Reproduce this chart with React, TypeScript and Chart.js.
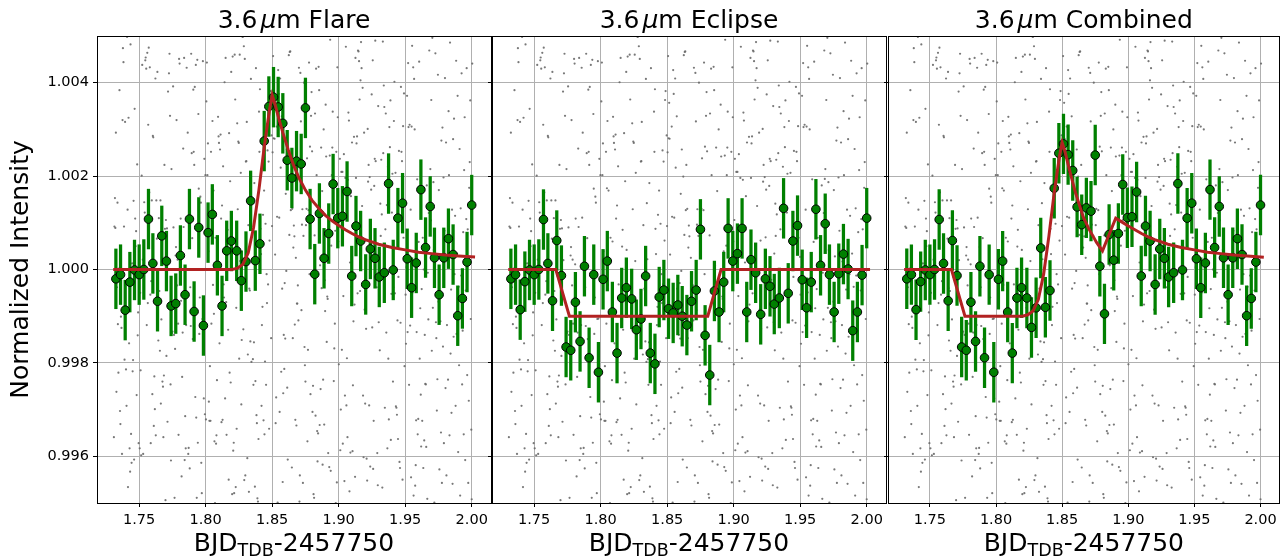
import React, { useEffect, useRef } from "react";
import { Chart, registerables } from "chart.js";

Chart.register(...registerables);

// ---------------- layout constants ----------------
const W = 1285;
const H = 557;
const PLOT_TOP = 36;
const PLOT_BOTTOM = 503;
const PANEL_LEFT = [97, 492, 888];
const PANEL_WIDTH = 394;
const FONT = "'DejaVu Sans', 'Liberation Sans', sans-serif";

// ---------------- axis data ----------------
const X_MIN = 1.7183;
const X_MAX = 2.0145;
const Y_MIN = 0.995;
const Y_MAX = 1.005;
const xTicks = [1.75, 1.8, 1.85, 1.9, 1.95, 2.0];
const yTicks = [0.996, 0.998, 1.0, 1.002, 1.004];

const titleWave = "3.6";
const titleUnitItalic = "\u03bc";
const titleUnitRest = "m";
const panelNames = ["Flare", "Eclipse", "Combined"];
const yAxisTitle = "Normalized Intensity";
const xAxisMain = "BJD";
const xAxisSub = "TDB";
const xAxisTail = "-2457750";

// ---------------- raw (unbinned) photometry ----------------
const rawTime = [
  1.7310, 1.7314, 1.7318, 1.7321, 1.7325, 1.7329, 1.7333, 1.7337, 1.7340, 1.7344,
  1.7348, 1.7352, 1.7356, 1.7359, 1.7363, 1.7367, 1.7371, 1.7375, 1.7378, 1.7382,
  1.7386, 1.7390, 1.7394, 1.7397, 1.7401, 1.7405, 1.7409, 1.7413, 1.7416, 1.7420,
  1.7424, 1.7428, 1.7432, 1.7435, 1.7439, 1.7443, 1.7447, 1.7451, 1.7454, 1.7458,
  1.7462, 1.7466, 1.7470, 1.7473, 1.7477, 1.7481, 1.7485, 1.7489, 1.7492, 1.7496,
  1.7500, 1.7504, 1.7508, 1.7511, 1.7515, 1.7519, 1.7523, 1.7527, 1.7530, 1.7534,
  1.7538, 1.7542, 1.7546, 1.7549, 1.7553, 1.7557, 1.7561, 1.7565, 1.7568, 1.7572,
  1.7576, 1.7580, 1.7584, 1.7587, 1.7591, 1.7595, 1.7599, 1.7603, 1.7606, 1.7610,
  1.7614, 1.7618, 1.7622, 1.7625, 1.7629, 1.7633, 1.7637, 1.7641, 1.7644, 1.7648,
  1.7652, 1.7656, 1.7660, 1.7663, 1.7667, 1.7671, 1.7675, 1.7679, 1.7682, 1.7686,
  1.7690, 1.7694, 1.7698, 1.7701, 1.7705, 1.7709, 1.7713, 1.7717, 1.7720, 1.7724,
  1.7728, 1.7732, 1.7736, 1.7739, 1.7743, 1.7747, 1.7751, 1.7755, 1.7758, 1.7762,
  1.7766, 1.7770, 1.7774, 1.7777, 1.7781, 1.7785, 1.7789, 1.7793, 1.7796, 1.7800,
  1.7804, 1.7808, 1.7812, 1.7815, 1.7819, 1.7823, 1.7827, 1.7831, 1.7834, 1.7838,
  1.7842, 1.7846, 1.7850, 1.7853, 1.7857, 1.7861, 1.7865, 1.7869, 1.7872, 1.7876,
  1.7880, 1.7884, 1.7888, 1.7891, 1.7895, 1.7899, 1.7903, 1.7907, 1.7910, 1.7914,
  1.7918, 1.7922, 1.7926, 1.7929, 1.7933, 1.7937, 1.7941, 1.7945, 1.7948, 1.7952,
  1.7956, 1.7960, 1.7964, 1.7967, 1.7971, 1.7975, 1.7979, 1.7983, 1.7986, 1.7990,
  1.7994, 1.7998, 1.8002, 1.8005, 1.8009, 1.8013, 1.8017, 1.8021, 1.8024, 1.8028,
  1.8032, 1.8036, 1.8040, 1.8043, 1.8047, 1.8051, 1.8055, 1.8059, 1.8062, 1.8066,
  1.8070, 1.8074, 1.8078, 1.8081, 1.8085, 1.8089, 1.8093, 1.8097, 1.8100, 1.8104,
  1.8108, 1.8112, 1.8116, 1.8119, 1.8123, 1.8127, 1.8131, 1.8135, 1.8138, 1.8142,
  1.8146, 1.8150, 1.8154, 1.8157, 1.8161, 1.8165, 1.8169, 1.8173, 1.8176, 1.8180,
  1.8184, 1.8188, 1.8192, 1.8195, 1.8199, 1.8203, 1.8207, 1.8211, 1.8214, 1.8218,
  1.8222, 1.8226, 1.8230, 1.8233, 1.8237, 1.8241, 1.8245, 1.8249, 1.8252, 1.8256,
  1.8260, 1.8264, 1.8268, 1.8271, 1.8275, 1.8279, 1.8283, 1.8287, 1.8290, 1.8294,
  1.8298, 1.8302, 1.8306, 1.8309, 1.8313, 1.8317, 1.8321, 1.8325, 1.8328, 1.8332,
  1.8336, 1.8340, 1.8344, 1.8347, 1.8351, 1.8355, 1.8359, 1.8363, 1.8366, 1.8370,
  1.8374, 1.8378, 1.8382, 1.8385, 1.8389, 1.8393, 1.8397, 1.8401, 1.8404, 1.8408,
  1.8412, 1.8416, 1.8420, 1.8423, 1.8427, 1.8431, 1.8435, 1.8439, 1.8442, 1.8446,
  1.8450, 1.8454, 1.8458, 1.8461, 1.8465, 1.8469, 1.8473, 1.8477, 1.8480, 1.8484,
  1.8488, 1.8492, 1.8496, 1.8499, 1.8503, 1.8507, 1.8511, 1.8515, 1.8518, 1.8522,
  1.8526, 1.8530, 1.8534, 1.8537, 1.8541, 1.8545, 1.8549, 1.8553, 1.8556, 1.8560,
  1.8564, 1.8568, 1.8572, 1.8575, 1.8579, 1.8583, 1.8587, 1.8591, 1.8594, 1.8598,
  1.8602, 1.8606, 1.8610, 1.8613, 1.8617, 1.8621, 1.8625, 1.8629, 1.8632, 1.8636,
  1.8640, 1.8644, 1.8648, 1.8651, 1.8655, 1.8659, 1.8663, 1.8667, 1.8670, 1.8674,
  1.8678, 1.8682, 1.8686, 1.8689, 1.8693, 1.8697, 1.8701, 1.8705, 1.8708, 1.8712,
  1.8716, 1.8720, 1.8724, 1.8727, 1.8731, 1.8735, 1.8739, 1.8743, 1.8746, 1.8750,
  1.8754, 1.8758, 1.8762, 1.8765, 1.8769, 1.8773, 1.8777, 1.8781, 1.8784, 1.8788,
  1.8792, 1.8796, 1.8800, 1.8803, 1.8807, 1.8811, 1.8815, 1.8819, 1.8822, 1.8826,
  1.8830, 1.8834, 1.8838, 1.8841, 1.8845, 1.8849, 1.8853, 1.8857, 1.8860, 1.8864,
  1.8868, 1.8872, 1.8876, 1.8879, 1.8883, 1.8887, 1.8891, 1.8895, 1.8898, 1.8902,
  1.8906, 1.8910, 1.8914, 1.8917, 1.8921, 1.8925, 1.8929, 1.8933, 1.8936, 1.8940,
  1.8944, 1.8948, 1.8952, 1.8955, 1.8959, 1.8963, 1.8967, 1.8971, 1.8974, 1.8978,
  1.8982, 1.8986, 1.8990, 1.8993, 1.8997, 1.9001, 1.9005, 1.9009, 1.9012, 1.9016,
  1.9020, 1.9024, 1.9028, 1.9031, 1.9035, 1.9039, 1.9043, 1.9047, 1.9050, 1.9054,
  1.9058, 1.9062, 1.9066, 1.9069, 1.9073, 1.9077, 1.9081, 1.9085, 1.9088, 1.9092,
  1.9096, 1.9100, 1.9104, 1.9107, 1.9111, 1.9115, 1.9119, 1.9123, 1.9126, 1.9130,
  1.9134, 1.9138, 1.9142, 1.9145, 1.9149, 1.9153, 1.9157, 1.9161, 1.9164, 1.9168,
  1.9172, 1.9176, 1.9180, 1.9183, 1.9187, 1.9191, 1.9195, 1.9199, 1.9202, 1.9206,
  1.9210, 1.9214, 1.9218, 1.9221, 1.9225, 1.9229, 1.9233, 1.9237, 1.9240, 1.9244,
  1.9248, 1.9252, 1.9256, 1.9259, 1.9263, 1.9267, 1.9271, 1.9275, 1.9278, 1.9282,
  1.9286, 1.9290, 1.9294, 1.9297, 1.9301, 1.9305, 1.9309, 1.9313, 1.9316, 1.9320,
  1.9324, 1.9328, 1.9332, 1.9335, 1.9339, 1.9343, 1.9347, 1.9351, 1.9354, 1.9358,
  1.9362, 1.9366, 1.9370, 1.9373, 1.9377, 1.9381, 1.9385, 1.9389, 1.9392, 1.9396,
  1.9400, 1.9404, 1.9408, 1.9411, 1.9415, 1.9419, 1.9423, 1.9427, 1.9430, 1.9434,
  1.9438, 1.9442, 1.9446, 1.9449, 1.9453, 1.9457, 1.9461, 1.9465, 1.9468, 1.9472,
  1.9476, 1.9480, 1.9484, 1.9487, 1.9491, 1.9495, 1.9499, 1.9503, 1.9506, 1.9510,
  1.9514, 1.9518, 1.9522, 1.9525, 1.9529, 1.9533, 1.9537, 1.9541, 1.9544, 1.9548,
  1.9552, 1.9556, 1.9560, 1.9563, 1.9567, 1.9571, 1.9575, 1.9579, 1.9582, 1.9586,
  1.9590, 1.9594, 1.9598, 1.9601, 1.9605, 1.9609, 1.9613, 1.9617, 1.9620, 1.9624,
  1.9628, 1.9632, 1.9636, 1.9639, 1.9643, 1.9647, 1.9651, 1.9655, 1.9658, 1.9662,
  1.9666, 1.9670, 1.9674, 1.9677, 1.9681, 1.9685, 1.9689, 1.9693, 1.9696, 1.9700,
  1.9704, 1.9708, 1.9712, 1.9715, 1.9719, 1.9723, 1.9727, 1.9731, 1.9734, 1.9738,
  1.9742, 1.9746, 1.9750, 1.9753, 1.9757, 1.9761, 1.9765, 1.9769, 1.9772, 1.9776,
  1.9780, 1.9784, 1.9788, 1.9791, 1.9795, 1.9799, 1.9803, 1.9807, 1.9810, 1.9814,
  1.9818, 1.9822, 1.9826, 1.9829, 1.9833, 1.9837, 1.9841, 1.9845, 1.9848, 1.9852,
  1.9856, 1.9860, 1.9864, 1.9867, 1.9871, 1.9875, 1.9879, 1.9883, 1.9886, 1.9890,
  1.9894, 1.9898, 1.9902, 1.9905, 1.9909, 1.9913, 1.9917, 1.9921, 1.9924, 1.9928,
  1.9932, 1.9936, 1.9940, 1.9943, 1.9947, 1.9951, 1.9955, 1.9959, 1.9962, 1.9966,
  1.9970, 1.9974, 1.9978, 1.9981, 1.9985, 1.9989, 1.9993, 1.9997, 2.0000, 2.0004,
];

const rawFlux = [
  0.99641, 1.00092, 1.00153, 1.00089, 1.00293, 0.99738, 0.99962, 1.00143, 0.99883, 0.99779,
  1.00002, 1.00384, 0.99697, 0.99669, 0.99899, 0.99875, 0.99605, 1.00320, 1.00474, 1.00444,
  1.00092, 0.99807, 1.00316, 0.99906, 0.99786, 0.99708, 1.00498, 1.00128, 0.99534, 1.00325,
  0.99842, 0.99617, 0.99567, 1.00482, 0.99648, 0.99586, 1.00013, 0.99782, 0.99806, 1.00147,
  0.99593, 1.00344, 1.00109, 1.00050, 1.00082, 0.99731, 1.00225, 0.99859, 0.99908, 0.99628,
  0.99981, 0.99617, 0.99950, 0.99784, 0.99602, 1.00201, 1.00438, 1.00021, 0.99605, 1.00059,
  1.00144, 1.00122, 1.00448, 1.00454, 1.00430, 0.99881, 1.00464, 0.99928, 1.00310, 1.00475,
  1.00165, 1.00433, 0.99946, 0.99628, 0.99975, 1.00148, 0.99733, 1.00286, 1.00283, 0.99665,
  0.99771, 0.99701, 1.00409, 0.99645, 1.00148, 1.00066, 1.00423, 0.99960, 0.99848, 1.00110,
  0.99954, 0.99826, 1.00148, 0.99713, 0.99893, 1.00107, 0.99760, 0.99749, 0.99641, 0.99773,
  1.00224, 1.00087, 0.99506, 1.00106, 0.99815, 1.00088, 0.99674, 1.00381, 1.00020, 1.00420,
  1.00462, 1.00329, 0.99754, 0.99591, 1.00215, 0.99864, 0.99867, 1.00392, 1.00090, 0.99860,
  0.99511, 0.99830, 1.00030, 1.00048, 1.00320, 0.99966, 1.00021, 0.99884, 0.99646, 1.00451,
  1.00441, 1.00011, 1.00109, 0.99933, 0.99557, 0.99770, 0.99865, 1.00259, 1.00091, 1.00453,
  0.99592, 0.99686, 0.99617, 0.99881, 1.00432, 1.00111, 1.00293, 0.99605, 0.99618, 1.00048,
  0.99574, 0.99962, 0.99879, 1.00462, 1.00249, 1.00067, 0.99851, 1.00385, 1.00252, 1.00224,
  1.00391, 0.99727, 1.00438, 0.99683, 0.99511, 1.00449, 0.99629, 1.00333, 1.00173, 0.99862,
  0.99940, 1.00156, 1.00143, 0.99586, 0.99521, 0.99894, 1.00446, 0.99895, 0.99724, 1.00237,
  0.99690, 1.00202, 0.99679, 1.00360, 1.00443, 1.00202, 1.00270, 1.00039, 0.99717, 0.99676,
  0.99793, 0.99676, 1.00252, 0.99884, 1.00174, 1.00318, 0.99967, 1.00169, 0.99905, 0.99632,
  0.99500, 1.00068, 0.99627, 0.99645, 0.99763, 1.00060, 1.00327, 1.00285, 1.00271, 0.99842,
  1.00257, 1.00289, 1.00109, 0.99673, 1.00137, 0.99678, 1.00221, 0.99968, 0.99940, 1.00401,
  0.99724, 1.00453, 0.99930, 0.99646, 1.00049, 1.00085, 0.99871, 0.99550, 1.00292, 0.99779,
  1.00189, 0.99758, 1.00423, 1.00042, 0.99519, 1.00456, 0.99612, 0.99629, 0.99521, 1.00460,
  1.00364, 0.99534, 0.99918, 0.99659, 1.00313, 1.00129, 1.00274, 1.00271, 0.99809, 1.00460,
  1.00018, 1.00207, 0.99711, 0.99849, 1.00499, 1.00498, 0.99872, 1.00478, 0.99549, 1.00451,
  0.99559, 1.00231, 1.00232, 1.00316, 0.99596, 0.99818, 1.00095, 0.99524, 0.99959, 0.99955,
  0.99846, 1.00408, 0.99802, 1.00142, 1.00022, 0.99808, 0.99753, 0.99844, 1.00185, 0.99535,
  0.99761, 1.00431, 0.99688, 0.99671, 0.99510, 0.99503, 0.99637, 1.00338, 1.00252, 1.00386,
  1.00087, 1.00033, 0.99708, 0.99881, 0.99920, 1.00117, 0.99677, 1.00169, 0.99647, 0.99803,
  1.00098, 0.99753, 0.99990, 0.99928, 1.00255, 0.99968, 1.00231, 0.99659, 1.00062, 1.00363,
  1.00382, 0.99853, 1.00287, 1.00093, 1.00251, 1.00457, 1.00281, 1.00357, 1.00280, 1.00032,
  0.99671, 0.99726, 1.00306, 1.00113, 0.99501, 1.00427, 1.00376, 1.00111, 0.99695, 1.00409,
  1.00218, 0.99781, 1.00328, 0.99959, 0.99545, 0.99735, 0.99860, 0.99787, 0.99971, 0.99852,
  1.00162, 0.99997, 1.00257, 0.99747, 0.99593, 1.00199, 1.00459, 1.00074, 1.00466, 1.00467,
  1.00127, 1.00224, 0.99576, 1.00130, 0.99853, 1.00047, 1.00094, 1.00071, 0.99882, 0.99678,
  1.00025, 0.99666, 0.99927, 0.99927, 0.99966, 0.99891, 1.00432, 0.99503, 0.99559, 1.00421,
  1.00317, 0.99913, 1.00096, 1.00129, 0.99543, 1.00072, 1.00400, 0.99834, 0.99795, 0.99760,
  1.00095, 1.00130, 1.00238, 0.99632, 0.99828, 1.00127, 1.00443, 0.99990, 1.00263, 0.99733,
  1.00329, 1.00380, 1.00253, 0.99695, 0.99751, 0.99519, 0.99511, 1.00073, 1.00334, 0.99687,
  1.00430, 1.00202, 0.99654, 0.99589, 0.99649, 1.00434, 1.00384, 0.99667, 1.00009, 0.99744,
  1.00261, 0.99960, 1.00168, 0.99582, 0.99764, 1.00300, 0.99668, 0.99977, 0.99911, 1.00353,
  1.00242, 0.99845, 0.99942, 0.99937, 0.99607, 1.00039, 0.99577, 1.00244, 1.00492, 0.99569,
  1.00051, 1.00202, 1.00261, 1.00338, 1.00106, 0.99761, 0.99831, 0.99884, 1.00083, 0.99500,
  1.00252, 0.99544, 1.00433, 1.00326, 1.00060, 0.99797, 1.00106, 1.00237, 0.99613, 0.99700,
  1.00209, 0.99828, 1.00209, 0.99627, 0.99943, 1.00247, 0.99547, 0.99730, 1.00196, 1.00477,
  0.99709, 0.99810, 0.99641, 1.00192, 1.00336, 1.00319, 0.99525, 1.00015, 0.99608, 1.00157,
  0.99963, 1.00272, 0.99611, 0.99752, 0.99889, 1.00284, 0.99925, 0.99556, 1.00453, 1.00196,
  1.00270, 1.00285, 0.99949, 1.00469, 1.00467, 1.00446, 1.00364, 0.99954, 1.00405, 1.00487,
  1.00431, 1.00136, 1.00389, 0.99730, 0.99598, 1.00293, 0.99914, 0.99713, 1.00062, 0.99873,
  0.99595, 0.99548, 1.00301, 1.00188, 1.00224, 0.99709, 1.00198, 0.99578, 1.00069, 1.00171,
  1.00375, 0.99876, 1.00448, 0.99573, 0.99676, 1.00179, 1.00237, 1.00490, 1.00232, 0.99978,
  0.99962, 0.99607, 0.99538, 1.00350, 0.99887, 1.00034, 0.99827, 1.00141, 1.00072, 1.00235,
  1.00118, 0.99533, 1.00488, 1.00249, 1.00394, 1.00348, 0.99704, 1.00086, 1.00334, 0.99865,
  1.00138, 0.99617, 1.00220, 0.99809, 0.99679, 1.00305, 1.00262, 1.00362, 0.99635, 0.99948,
  1.00122, 1.00205, 0.99760, 0.99962, 1.00318, 1.00402, 0.99949, 1.00207, 0.99707, 0.99704,
  0.99689, 0.99891, 0.99637, 0.99984, 1.00254, 0.99588, 0.99575, 0.99886, 1.00391, 1.00252,
  1.00232, 0.99550, 1.00307, 1.00068, 1.00377, 0.99793, 1.00027, 0.99946, 0.99841, 1.00005,
  1.00372, 0.99866, 1.00442, 1.00305, 0.99753, 1.00310, 0.99880, 1.00128, 0.99555, 1.00306,
  1.00479, 0.99951, 1.00433, 0.99516, 1.00408, 1.00300, 0.99537, 0.99581, 0.99677, 0.99866,
  1.00193, 0.99647, 0.99680, 1.00059, 1.00445, 0.99809, 0.99917, 0.99732, 0.99621, 0.99958,
  0.99676, 1.00068, 0.99575, 1.00000, 0.99634, 0.99860, 0.99755, 0.99754, 0.99620, 1.00180,
  0.99509, 0.99993, 0.99893, 1.00121, 1.00469, 1.00194, 1.00215, 1.00105, 1.00363, 0.99826,
  1.00496, 0.99918, 1.00187, 1.00042, 0.99501, 0.99996, 1.00463, 0.99887, 0.99853, 0.99698,
  0.99765, 1.00417, 0.99931, 1.00170, 0.99572, 1.00028, 0.99889, 0.99651, 1.00276, 0.99543,
  1.00304, 0.99835, 1.00197, 0.99628, 1.00083, 1.00410, 0.99746, 1.00272, 0.99559, 0.99881,
  1.00017, 0.99764, 1.00339, 1.00202, 0.99645, 1.00486, 0.99820, 0.99957, 0.99693, 1.00128,
  0.99541, 1.00279, 0.99856, 1.00323, 0.99990, 1.00115, 0.99708, 1.00447, 0.99862, 1.00034,
  1.00372, 0.99609, 0.99963, 0.99795, 1.00258, 0.99516, 1.00131, 0.99987, 1.00420, 0.99754,
  0.99869, 1.00080, 0.99647, 1.00213, 1.00326, 0.99592, 0.99955, 1.00108, 1.00431, 0.99774,
  1.00086, 0.99543, 0.99719, 1.00175, 1.00230, 1.00362, 0.99894, 0.99657, 0.99508, 1.00441,
];

// ---------------- binned photometry ----------------
const binTime = [
  1.7325, 1.7360, 1.7395, 1.7430, 1.7465, 1.7500, 1.7535, 1.7570, 1.7603, 1.7638,
  1.7670, 1.7705, 1.7740, 1.7775, 1.7810, 1.7845, 1.7878, 1.7913, 1.7948, 1.7983,
  1.8018, 1.8050, 1.8088, 1.8123, 1.8158, 1.8193, 1.8233, 1.8268, 1.8303, 1.8338,
  1.8373, 1.8408, 1.8440, 1.8475, 1.8510, 1.8545, 1.8580, 1.8613, 1.8648, 1.8683,
  1.8718, 1.8750, 1.8785, 1.8820, 1.8855, 1.8890, 1.8925, 1.8958, 1.8993, 1.9028,
  1.9063, 1.9098, 1.9130, 1.9165, 1.9203, 1.9238, 1.9273, 1.9305, 1.9343, 1.9375,
  1.9410, 1.9445, 1.9480, 1.9515, 1.9548, 1.9583, 1.9618, 1.9653, 1.9688, 1.9720,
  1.9755, 1.9790, 1.9825, 1.9860, 1.9895, 1.9930, 1.9965, 2.0000,
];
const binError = 0.00064;

// eclipse removed
const binFluxFlare = [
  0.99980, 0.99989, 0.99913, 0.99973, 0.99999, 0.99989, 1.00000, 1.00108, 1.00013, 0.99932,
  1.00072, 1.00018, 0.99922, 0.99927, 1.00030, 0.99946, 1.00108, 0.99910, 1.00090, 0.99880,
  1.00079, 1.00118, 1.00009, 0.99922, 1.00040, 1.00061, 1.00040, 0.99976, 1.00017, 1.00147,
  1.00019, 1.00055, 1.00275, 1.00349, 1.00369, 1.00348, 1.00313, 1.00234, 1.00196, 1.00232,
  1.00226, 1.00346, 1.00108, 0.99990, 1.00120, 1.00024, 1.00077, 1.00183, 1.00110, 1.00114,
  1.00167, 0.99986, 1.00093, 1.00061, 0.99968, 1.00044, 1.00024, 0.99984, 0.99993, 1.00184,
  0.99999, 1.00110, 1.00142, 1.00023, 0.99961, 1.00014, 1.00171, 1.00047, 1.00135, 1.00025,
  0.99946, 1.00025, 1.00066, 1.00032, 0.99901, 0.99938, 1.00016, 1.00138,
];
// flare removed
const binFluxEclipse = [
  0.99980, 0.99989, 0.99914, 0.99974, 0.99999, 0.99989, 1.00000, 1.00107, 1.00013, 0.99933,
  1.00062, 0.99987, 0.99834, 0.99827, 0.99930, 0.99846, 1.00007, 0.99811, 0.99989, 0.99780,
  0.99979, 1.00018, 0.99909, 0.99821, 0.99939, 0.99961, 0.99937, 0.99871, 0.99894, 0.99986,
  0.99821, 0.99798, 0.99941, 0.99956, 0.99916, 0.99907, 0.99924, 0.99900, 0.99881, 0.99932,
  0.99956, 1.00086, 0.99859, 0.99774, 0.99954, 0.99909, 0.99973, 1.00088, 1.00018, 1.00034,
  1.00088, 0.99909, 1.00021, 0.99993, 0.99904, 0.99980, 0.99964, 0.99926, 0.99939, 1.00131,
  0.99949, 1.00061, 1.00094, 0.99978, 0.99918, 0.99973, 1.00129, 1.00009, 1.00098, 0.99989,
  0.99909, 0.99991, 1.00033, 1.00001, 0.99869, 0.99909, 0.99988, 1.00110,
];
// raw binned
const binFluxCombined = [
  0.99980, 0.99989, 0.99914, 0.99974, 0.99999, 0.99989, 1.00000, 1.00107, 1.00013, 0.99933,
  1.00062, 0.99987, 0.99834, 0.99827, 0.99930, 0.99846, 1.00007, 0.99811, 0.99989, 0.99780,
  0.99979, 1.00018, 0.99909, 0.99821, 0.99939, 0.99961, 0.99939, 0.99876, 0.99918, 1.00046,
  0.99919, 0.99955, 1.00174, 1.00249, 1.00269, 1.00246, 1.00212, 1.00134, 1.00096, 1.00132,
  1.00125, 1.00245, 1.00007, 0.99905, 1.00075, 1.00020, 1.00077, 1.00182, 1.00111, 1.00113,
  1.00166, 0.99986, 1.00093, 1.00061, 0.99968, 1.00044, 1.00024, 0.99984, 0.99993, 1.00184,
  0.99999, 1.00110, 1.00142, 1.00023, 0.99961, 1.00014, 1.00171, 1.00047, 1.00135, 1.00025,
  0.99946, 1.00025, 1.00066, 1.00032, 0.99901, 0.99938, 1.00016, 1.00138,
];

// ---------------- model curves ----------------
const flareModelTime = [
  1.7305, 1.8200, 1.8240, 1.8280, 1.8320, 1.8360, 1.8400, 1.8440, 1.8480, 1.8500,
  1.8520, 1.8550, 1.8580, 1.8620, 1.8660, 1.8700, 1.8750, 1.8800, 1.8850, 1.8900,
  1.8950, 1.9000, 1.9050, 1.9100, 1.9150, 1.9200, 1.9300, 1.9400, 1.9500, 1.9600,
  1.9700, 1.9800, 1.9900, 2.0025,
];
const flareModelFlux = [
  1.00000, 1.00000, 1.00003, 1.00011, 1.00036, 1.00090, 1.00170, 1.00262, 1.00342, 1.00373,
  1.00355, 1.00323, 1.00293, 1.00257, 1.00224, 1.00197, 1.00170, 1.00148, 1.00131, 1.00116,
  1.00104, 1.00094, 1.00085, 1.00077, 1.00070, 1.00064, 1.00054, 1.00047, 1.00042, 1.00037,
  1.00034, 1.00031, 1.00029, 1.00027,
];
const eclipseModelTime = [1.7305, 1.7663, 1.7765, 1.8805, 1.8905, 2.0025];
const eclipseModelFlux = [1.0, 1.0, 0.999, 0.999, 1.0, 1.0];
const combinedModelTime = [
  1.7305, 1.7663, 1.7765, 1.8200, 1.8240, 1.8280, 1.8320, 1.8360, 1.8400, 1.8440,
  1.8480, 1.8500, 1.8520, 1.8560, 1.8600, 1.8660, 1.8700, 1.8760, 1.8805, 1.8905,
  1.8950, 1.9000, 1.9050, 1.9100, 1.9150, 1.9200, 1.9300, 1.9400, 1.9500, 1.9600,
  1.9700, 1.9800, 1.9900, 2.0025,
];
const combinedModelFlux = [
  1.00000, 1.00000, 0.99900, 0.99900, 0.99903, 0.99911, 0.99936, 0.99990, 1.00072, 1.00165,
  1.00243, 1.00272, 1.00254, 1.00208, 1.00165, 1.00112, 1.00088, 1.00058, 1.00040, 1.00110,
  1.00102, 1.00093, 1.00085, 1.00077, 1.00070, 1.00064, 1.00054, 1.00047, 1.00042, 1.00037,
  1.00034, 1.00031, 1.00029, 1.00026,
];

const panelBinFlux = [binFluxFlare, binFluxEclipse, binFluxCombined];
const panelModelTime = [flareModelTime, eclipseModelTime, combinedModelTime];
const panelModelFlux = [flareModelFlux, eclipseModelFlux, combinedModelFlux];

// ---------------- helpers ----------------
type Run = { text: string; font: string; dy?: number; gapAfter?: number };

function drawRuns(ctx: CanvasRenderingContext2D, runs: Run[], cx: number, baseline: number) {
  ctx.textAlign = "left";
  ctx.textBaseline = "alphabetic";
  const widths = runs.map((r) => {
    ctx.font = r.font;
    return ctx.measureText(r.text).width;
  });
  const total = widths.reduce((s, w, i) => s + w + (runs[i].gapAfter || 0), 0);
  let x = cx - total / 2;
  runs.forEach((r, i) => {
    ctx.font = r.font;
    ctx.fillText(r.text, x, baseline + (r.dy || 0));
    x += widths[i] + (r.gapAfter || 0);
  });
}

function alignPx(v: number) {
  return Math.round(v - 0.5) + 0.5;
}

function makeDecorPlugin(index: number) {
  return {
    id: "decor" + index,
    afterDraw(chart: any) {
      const { ctx, chartArea: a } = chart;
      ctx.save();
      ctx.strokeStyle = "#000";
      ctx.lineWidth = 1;
      const l = alignPx(a.left), r = alignPx(a.right), t = alignPx(a.top), b = alignPx(a.bottom);
      ctx.strokeRect(l, t, r - l, b - t);
      ctx.fillStyle = "#000";
      const cx = (a.left + a.right) / 2;
      drawRuns(
        ctx,
        [
          { text: titleWave, font: `25px ${FONT}`, gapAfter: 3 },
          { text: titleUnitItalic, font: `italic 25px ${FONT}` },
          { text: titleUnitRest + " " + panelNames[index], font: `25px ${FONT}` },
        ],
        cx,
        28
      );
      drawRuns(
        ctx,
        [
          { text: xAxisMain, font: `25px ${FONT}` },
          { text: xAxisSub, font: `17.5px ${FONT}`, dy: 4.5 },
          { text: xAxisTail, font: `25px ${FONT}` },
        ],
        cx,
        551
      );
      if (index === 0) {
        ctx.translate(28, (a.top + a.bottom) / 2);
        ctx.rotate(-Math.PI / 2);
        ctx.font = `25px ${FONT}`;
        ctx.textAlign = "center";
        ctx.textBaseline = "alphabetic";
        ctx.fillText(yAxisTitle, 0, 0);
      }
      ctx.restore();
    },
  };
}

function buildConfig(index: number): any {
  const flux = panelBinFlux[index];
  const mT = panelModelTime[index];
  const mF = panelModelFlux[index];
  const left = PANEL_LEFT[index];
  const yAxisWidth = index === 0 ? left : 6;
  const tickFont = { family: FONT, size: 14.5 };
  const gridCommon = {
    color: "#b0b0b0",
    lineWidth: 1,
    drawTicks: true,
    tickLength: 4,
    tickColor: "#000",
    tickWidth: 1,
    offset: false,
  };
  return {
    type: "scatter",
    data: {
      datasets: [
        {
          type: "line",
          data: mT.map((t, i) => ({ x: t, y: mF[i] })),
          borderColor: "#b22222",
          borderWidth: 3,
          pointRadius: 0,
          tension: 0,
          fill: false,
          order: 1,
        },
        {
          type: "scatter",
          data: binTime.map((t, i) => ({ x: t, y: flux[i] })),
          pointRadius: 4.3,
          pointBackgroundColor: "#008000",
          pointBorderColor: "#000000",
          pointBorderWidth: 1,
          order: 2,
        },
        {
          type: "bar",
          data: binTime.map((t, i) => ({ x: t, y: [flux[i] - binError, flux[i] + binError] })),
          backgroundColor: "#008000",
          borderWidth: 0,
          barThickness: 2.6,
          order: 3,
        },
        {
          type: "scatter",
          data: rawTime.map((t, i) => ({ x: t, y: rawFlux[i] })),
          pointRadius: 1.1,
          pointBackgroundColor: "rgba(105,105,105,0.9)",
          pointBorderWidth: 0,
          order: 4,
        },
      ],
    },
    options: {
      animation: false,
      responsive: false,
      devicePixelRatio: 1,
      events: [],
      layout: {
        padding: {
          left: left - yAxisWidth,
          right: W - (left + PANEL_WIDTH),
          top: PLOT_TOP,
          bottom: 0,
        },
      },
      plugins: {
        legend: { display: false },
        tooltip: { enabled: false },
        title: { display: false },
      },
      scales: {
        x: {
          type: "linear",
          min: X_MIN,
          max: X_MAX,
          offset: false,
          afterBuildTicks: (s: any) => {
            s.ticks = xTicks.map((v) => ({ value: v }));
          },
          afterFit: (s: any) => {
            s.height = H - PLOT_BOTTOM;
          },
          ticks: {
            autoSkip: false,
            maxRotation: 0,
            padding: 5,
            color: "#000",
            font: tickFont,
            callback: (v: any) => Number(v).toFixed(2),
          },
          grid: gridCommon,
          border: { display: true, color: "#000", width: 1 },
        },
        y: {
          type: "linear",
          min: Y_MIN,
          max: Y_MAX,
          afterBuildTicks: (s: any) => {
            s.ticks = yTicks.map((v) => ({ value: v }));
          },
          afterFit: (s: any) => {
            s.width = yAxisWidth;
          },
          ticks: {
            display: index === 0,
            autoSkip: false,
            padding: 4,
            color: "#000",
            font: tickFont,
            callback: (v: any) => Number(v).toFixed(3),
          },
          grid: gridCommon,
          border: { display: true, color: "#000", width: 1 },
        },
      },
    },
    plugins: [makeDecorPlugin(index)],
  };
}

function Panel({ index }: { index: number }) {
  const ref = useRef<HTMLCanvasElement | null>(null);
  useEffect(() => {
    if (!ref.current) return;
    const chart = new Chart(ref.current, buildConfig(index));
    return () => chart.destroy();
  }, [index]);
  return (
    <canvas
      ref={ref}
      width={W}
      height={H}
      style={{ position: "absolute", left: 0, top: 0, width: W, height: H }}
    />
  );
}

export default function App() {
  return (
    <div
      style={{
        position: "absolute",
        left: 0,
        top: 0,
        width: W,
        height: H,
        background: "#ffffff",
        overflow: "hidden",
      }}
    >
      {[0, 1, 2].map((i) => (
        <Panel key={i} index={i} />
      ))}
    </div>
  );
}
